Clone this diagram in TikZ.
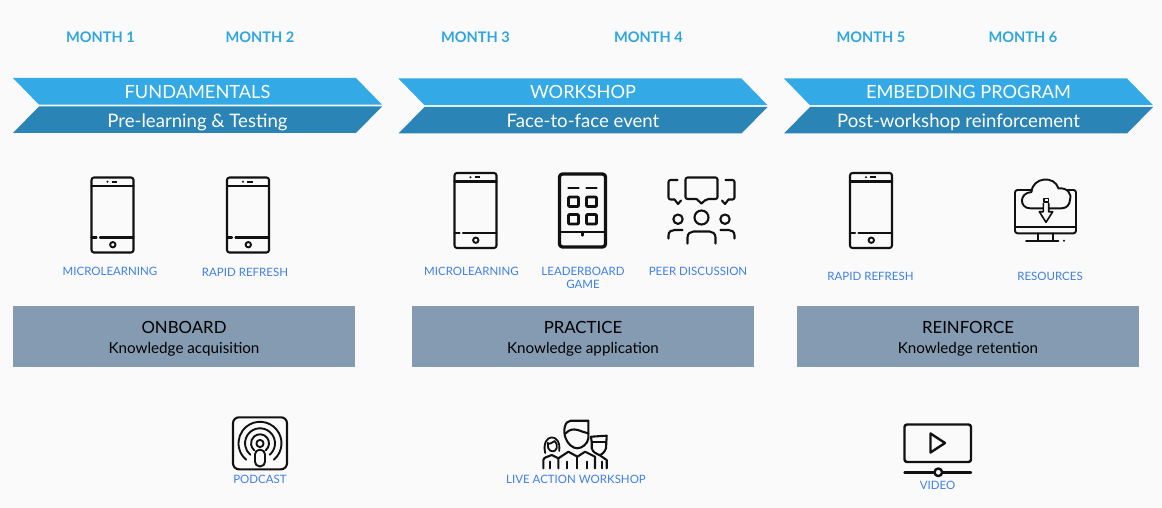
\documentclass[tikz,border=0pt]{standalone}
\usepackage{fontspec}
\setmainfont{Lato}
\usetikzlibrary{calc,positioning}
\definecolor{pagebg}{HTML}{FAFAFA}
\definecolor{bandlight}{HTML}{33A9E6}
\definecolor{banddark}{HTML}{2A84B5}
\definecolor{slatebox}{HTML}{849BB2}
\definecolor{monthblue}{HTML}{2FA6E2}
\definecolor{labelblue}{HTML}{3F7FEA}
\definecolor{iconblack}{HTML}{111111}
\tikzset{
  monthtext/.style={text=monthblue,font=\fontsize{14.6}{16}\selectfont\bfseries,inner sep=0pt},
  bandtop/.style={text=white,font=\fontsize{18.2}{20}\selectfont,inner sep=0pt,text height=13pt,text depth=4pt},
  bandsub/.style={text=white,font=\fontsize{18.6}{20}\selectfont,inner sep=0pt,text height=13pt,text depth=4pt},
  icontext/.style={text=labelblue,font=\fontsize{11.5}{14}\selectfont,inner sep=0pt,align=center},
  boxhead/.style={text=black,font=\fontsize{16.8}{18}\selectfont,inner sep=0pt},
  boxsub/.style={text=black,font=\fontsize{15.2}{16}\selectfont,inner sep=0pt,text height=11pt,text depth=3pt},
  iconline/.style={draw=iconblack,line width=2.1pt,line cap=round,line join=round},
  phone/.pic={
    \draw[iconline,rounded corners=2.5pt] (-21,-37.5) rectangle (21,37.5);
    \draw[iconline] (-21,-29) -- (21,-29);
    \draw[iconline] (-21,22.5) -- (-16,22.5) (-12.5,22.5) -- (21,22.5);
    \fill[iconblack] (-5,-33.3) circle (1.1);
    \draw[iconblack,line width=2pt] (-1,-33.3) -- (4.5,-33.3);
    \draw[iconline,line width=1.9pt] (0.3,29.7) circle (2.7);
  },
  tablet/.pic={
    \draw[iconline,line width=3.3pt,rounded corners=3pt] (-23,-36.5) rectangle (23,36.5);
    \foreach \bx in {-14,4}{
      \draw[iconline,line width=2.6pt] (\bx,-22.7) -- ++(10,0);
      \draw[iconline,line width=2.9pt,rounded corners=1pt] (\bx,-13.5) rectangle ++(10,9.5);
      \draw[iconline,line width=2.9pt,rounded corners=1pt] (\bx,4) rectangle ++(10,9.5);
    }
    \draw[iconline,line width=2.8pt] (-23,21.5) -- (23,21.5);
    \draw[iconline,line width=2.4pt] (0,21.5) -- (0,25);
  },
  peers/.pic={
    \draw[iconline] (-16,-33) [rounded corners=2pt] -- (16,-33) -- (16,-11.5) -- (5,-11.5) [sharp corners] -- (0,-7) -- (-5,-11.5) [rounded corners=2pt] -- (-16,-11.5) -- cycle;
    \foreach \sx in {-1,1}{
      \begin{scope}[xscale=\sx]
      \draw[iconline,rounded corners=2pt] (-24,-30.5) -- (-33,-30.5) -- (-33,-11) -- (-27,-11);
      \draw[iconline] (-27,-11) -- (-23.5,-6.5) -- (-20.5,-10);
      \draw[iconline] (-23.5,8.7) circle (4.7);
      \draw[iconline] (-33,28) -- (-33,25) .. controls (-33,21) and (-30,19.5) .. (-27,19.5) -- (-19,19.5);
      \end{scope}
    }
    \draw[iconline] (0,7) circle (7);
    \draw[iconline] (-14,33) -- (-14,27) .. controls (-14,23) and (-11,21) .. (-8,21) -- (8,21) .. controls (11,21) and (14,23) .. (14,27) -- (14,33);
  },
  cloudscreen/.pic={
    \draw[iconline,line width=1.9pt,rounded corners=2.5pt] (-30.5,-25) rectangle (30.5,18.3);
    \draw[iconline,line width=1.9pt] (-30.5,12.3) -- (30.5,12.3);
    \draw[iconline,line width=1.9pt] (-7.2,18.3) -- (-7.2,25) (7.8,18.3) -- (7.8,25);
    \draw[iconline,line width=1.9pt] (-19.5,25.7) -- (12.8,25.7);
    \fill[iconblack] (18.5,25.7) circle (1.1);
    \draw[iconline,line width=1.9pt,fill=pagebg] (-15.5,-6.7) .. controls (-26,-6.7) and (-27,-22) .. (-14,-23) .. controls (-13,-38) and (9,-40) .. (13,-26.5) .. controls (22,-28) and (27,-20) .. (24.5,-15) .. controls (24,-10) and (21,-6.7) .. (16,-6.7) -- cycle;
    \draw[iconline,line width=1.6pt,fill=pagebg] (-2.2,-11.7) -- (-2.2,-3.3) -- (-6.2,-3.3) -- (0.5,7.3) -- (7.2,-3.3) -- (3.2,-3.3) -- (3.2,-11.7);
    \draw[iconline,line width=1.6pt] (-1.7,-16.7) rectangle (2.8,-13.3);
  },
  podcastmark/.pic={
    \draw[iconline,rounded corners=6pt] (-27,-26) rectangle (27,26);
    \foreach \ringr in {9,15,21.5}{
      \draw[iconline,line width=1.9pt] (50:\ringr) arc (50:-230:\ringr);
    }
    \draw[iconline,line width=1.9pt] (0,0.2) circle (3.6);
    \draw[iconline,line width=1.9pt,rounded corners=4.5pt] (-5,6.5) rectangle (5,23);
  },
  crew/.pic={
    % middle figure
    \draw[iconline] (-11,-5.7) .. controls (-14,-13) and (-12,-23.3) .. (-6,-23.3) -- (11.7,-23.3) -- (11.7,-5.7) .. controls (11,0) and (5,4.3) .. (0.7,4.3) .. controls (-4,4.3) and (-9,0) .. (-11,-5.7);
    \draw[iconline] (-11,-10.7) .. controls (-7,-15) and (-3,-15) .. (1,-14) .. controls (5,-13) and (8,-11) .. (11.7,-10.7);
    \draw[iconline] (-18.3,24.3) -- (-18.3,14.3) -- (-8.3,7.7) -- (0.7,12.7) -- (8.3,7.7) -- (18.3,12.7) -- (18.3,24.3);
    \draw[iconline] (0.7,12.7) -- (0.7,24.3);
    \draw[iconline] (-10,17.7) -- (-10,24.3) (10.7,17.7) -- (10.7,24.3);
    % left figure
    \draw[iconline,line width=1.8pt] (-31.5,9) .. controls (-36,-11) and (-15,-12) .. (-17.5,7);
    \draw[iconline,line width=1.8pt] (-29,-1) .. controls (-27,1) and (-24,-2) .. (-22,-3) .. controls (-20,-1) and (-19.5,1) .. (-20,4) .. controls (-21,8.5) and (-27,8.5) .. (-28.5,4) -- cycle;
    \draw[iconline] (-33.3,24.3) -- (-33.3,16) .. controls (-33,13) and (-29,13) .. (-25,11) -- (-18.3,14.3);
    \draw[iconline] (-26.7,17.7) -- (-26.7,24.3);
    % right figure
    \draw[iconline] (14.3,-7.3) -- (30,-8.3) -- (29.3,4.3) .. controls (28,8) and (25,11) .. (22.7,11) .. controls (20,10) and (16,8) .. (15,4.3) -- (15,-1.7) -- cycle;
    \draw[iconline] (15,-1.7) -- (29.5,-1.7);
    \draw[iconline] (22.7,11) -- (30,16) -- (30,24.3);
    \draw[iconline] (25,17.7) -- (25,24.3);
  },
  videomark/.pic={
    \draw[iconline,line width=2.4pt,rounded corners=2.5pt] (-33,-18.5) rectangle (33.5,19);
    \draw[iconline,line width=2.4pt] (-7,-9.5) -- (-7,9.5) -- (7.5,0) -- cycle;
    \draw[iconline,line width=2.4pt] (-33,29.3) -- (33.5,29.3);
    \draw[iconline,line width=2.4pt,fill=pagebg] (0.8,29.3) circle (3.8);
  },
}

\begin{document}
\begin{tikzpicture}[x=1pt,y=-1pt]
  \useasboundingbox[fill=pagebg] (0,0) rectangle (1162,508);
  % month labels
  \node[monthtext] (monthone) at (100.5,37) {MONTH 1};
  \node[monthtext] (monthtwo) at (260,37) {MONTH 2};
  \node[monthtext] (monththree) at (475.5,37) {MONTH 3};
  \node[monthtext] (monthfour) at (648.5,37) {MONTH 4};
  \node[monthtext] (monthfive) at (871,37) {MONTH 5};
  \node[monthtext] (monthsix) at (1023,37) {MONTH 6};
  % chevron bands
  \foreach \bx/\by/\subx/\topname/\subname/\toplabel/\sublabel in {0/0/197.5/fundamentals/prelearning/FUNDAMENTALS/Pre-learning \& Testing,385.5/0.5/197.5/workshop/facetoface/WORKSHOP/Face-to-face event,771/0.5/187.5/embedding/postworkshop/EMBEDDING PROGRAM/Post-workshop reinforcement}{
    \begin{scope}[shift={(\bx,\by)}]
      \fill[bandlight] (13,78) -- (356,78) -- (382,104.7) -- (39,104.7) -- cycle;
      \fill[banddark] (39,106.5) -- (382,106.5) -- (356,133) -- (13,133) -- cycle;
      \node[bandtop] (\topname) at (197.5,94) {\toplabel};
      \node[bandsub] (\subname) at (\subx,123) {\sublabel};
    \end{scope}
  }
  % icons
  \pic at (112.5,215) {phone};
  \pic at (248,215) {phone};
  \pic at (475.5,210.5) {phone};
  \pic at (582.5,210.5) {tablet};
  \pic at (701.5,210.5) {peers};
  \pic at (871,210.5) {phone};
  \pic at (1045.5,215) {cloudscreen};
  \pic at (260,443.3) {podcastmark};
  \pic at (576.7,444) {crew};
  \pic at (937.5,443) {videomark};
  % icon labels
  \node[icontext] (microone) at (110,271) {MICROLEARNING};
  \node[icontext] (refreshone) at (245,272) {RAPID REFRESH};
  \node[icontext] (microtwo) at (471.5,271) {MICROLEARNING};
  \node[icontext,anchor=north] (leaderboard) at (583,266.5) {LEADERBOARD\\[-0.5pt]GAME};
  \node[icontext] (peer) at (698,271) {PEER DISCUSSION};
  \node[icontext] (refreshtwo) at (870.5,276) {RAPID REFRESH};
  \node[icontext] (resources) at (1050,276) {RESOURCES};
  % phase boxes
  \fill[slatebox] (13,306) rectangle (355,367);
  \fill[slatebox] (412,306) rectangle (754,367);
  \fill[slatebox] (797,306) rectangle (1139,367);
  \node[boxhead] (onboard) at (184,327.5) {ONBOARD};
  \node[boxsub] (acquisition) at (184,349) {Knowledge acquisition};
  \node[boxhead] (practice) at (583,327.5) {PRACTICE};
  \node[boxsub] (application) at (583,349) {Knowledge application};
  \node[boxhead] (reinforce) at (968,327.5) {REINFORCE};
  \node[boxsub] (retention) at (968,349) {Knowledge retention};
  % format labels
  \node[icontext] (podcast) at (260,479) {PODCAST};
  \node[icontext] (liveaction) at (576,479) {LIVE ACTION WORKSHOP};
  \node[icontext] (video) at (937.5,485) {VIDEO};
\end{tikzpicture}
\end{document}
